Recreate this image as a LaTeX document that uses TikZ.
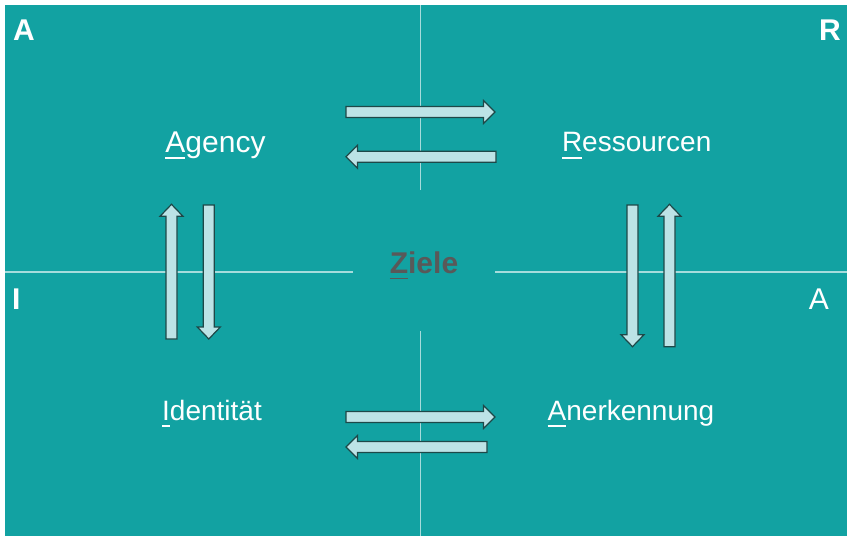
\documentclass[tikz,border=0pt]{standalone}
\usepackage{fontspec}
\setmainfont{Liberation Sans}
\definecolor{bgteal}{HTML}{12A2A2}
\definecolor{axisline}{HTML}{A6DCDC}
\definecolor{arrowfill}{HTML}{BCE3E6}
\definecolor{arrowedge}{HTML}{1E4848}
\definecolor{zielgray}{HTML}{595959}
\newcommand\ulet[2][-6.8pt]{\leavevmode\setbox0\hbox{#2}\rlap{\rule[#1]{\wd0}{1.6pt}}\box0}
% horizontal block arrow: tail x, tip x, centre y, direction (+1 right, -1 left)
\newcommand\harrow[4]{\draw[blockarrow] (#1,{#3-5.5}) -- ({#2-#4*11.5},{#3-5.5}) -- ({#2-#4*11.5},{#3-11.5}) -- (#2,#3) -- ({#2-#4*11.5},{#3+11.5}) -- ({#2-#4*11.5},{#3+5.5}) -- (#1,{#3+5.5}) -- cycle;}
% vertical block arrow: tail y, tip y, centre x, direction (+1 down, -1 up)
\newcommand\varrow[4]{\draw[blockarrow] ({#3-5.5},#1) -- ({#3-5.5},{#2-#4*12}) -- ({#3-11.5},{#2-#4*12}) -- (#3,#2) -- ({#3+11.5},{#2-#4*12}) -- ({#3+5.5},{#2-#4*12}) -- ({#3+5.5},#1) -- cycle;}
\begin{document}
\begin{tikzpicture}[x=1pt,y=-1pt,
  blockarrow/.style={fill=arrowfill,draw=arrowedge,line width=1.2pt,line join=miter},
  axis/.style={draw=axisline,line width=1.3pt},
  corner/.style={text=white,font=\fontsize{30}{34}\selectfont\bfseries,inner sep=0pt},
  label/.style={text=white,font=\fontsize{28}{32}\selectfont,inner sep=0pt,anchor=base}]
\useasboundingbox (0,0) rectangle (847,536);
\fill[white] (0,0) rectangle (847,536);
\fill[bgteal] (4.5,5) rectangle (847,536);
% axes
\draw[axis] (420.7,5) -- (420.7,190);
\draw[axis] (420.7,331) -- (420.7,536);
\draw[axis] (5,272) -- (353,272);
\draw[axis] (495,272) -- (847,272);
% corner letters
\node[corner,anchor=base west] (ctl) at (13,40.5) {A};
\node[corner,anchor=base east] (ctr) at (841,40.5) {R};
\node[corner,anchor=base west] (cl) at (12,309) {I};
\node[corner,anchor=base east,font=\fontsize{30}{34}\selectfont] (cr) at (829,309) {A};
% labels
\node[label,font=\fontsize{30}{34}\selectfont] (agency) at (215.5,152) {\ulet{A}gency};
\node[label] (ress) at (636.7,151.7) {\ulet{R}essourcen};
\node[label] (ident) at (212,420) {\ulet{I}dentität};
\node[label] (anerk) at (631,420) {\ulet{A}nerkennung};
\node[label,text=zielgray,font=\fontsize{30}{34}\selectfont\bfseries] (ziele) at (424,273.3) {\ulet[-6pt]{Z}iele};
% block arrows
\harrow{346}{495}{112}{1}
\harrow{496}{346}{156.7}{-1}
\harrow{346}{495}{417}{1}
\harrow{487}{346}{447}{-1}
\varrow{339}{204.3}{171.5}{-1}
\varrow{205}{339}{208.8}{1}
\varrow{205}{346.7}{632.5}{1}
\varrow{346.7}{204.3}{669.5}{-1}
\end{tikzpicture}
\end{document}
